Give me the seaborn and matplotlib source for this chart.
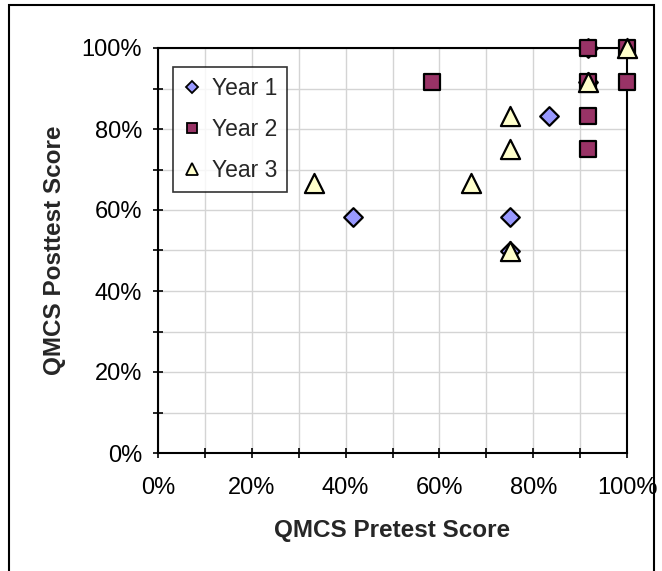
import matplotlib
matplotlib.use("Agg")
import matplotlib.pyplot as plt
from matplotlib.lines import Line2D
from matplotlib.patches import Rectangle
from matplotlib.ticker import MultipleLocator, PercentFormatter
import seaborn as sns
import pandas as pd

# ---- data ----
year1_x = [0.4167, 0.75, 0.75, 0.8333, 0.9167, 0.9167]
year1_y = [0.5833, 0.5833, 0.50, 0.8333, 1.0, 0.9167]
year2_x = [0.5833, 0.9167, 0.9167, 0.9167, 0.9167, 1.0, 1.0]
year2_y = [0.9167, 1.0, 0.9167, 0.8333, 0.75, 1.0, 0.9167]
year3_x = [0.3333, 0.6667, 0.75, 0.75, 0.75, 0.9167, 1.0]
year3_y = [0.6667, 0.6667, 0.8333, 0.75, 0.50, 0.9167, 1.0]
series_names = ["Year 1", "Year 2", "Year 3"]
x_label = "QMCS Pretest Score"
y_label = "QMCS Posttest Score"

colors = {"Year 1": "#9999FF", "Year 2": "#993366", "Year 3": "#FFFFCC"}
markers = {"Year 1": "D", "Year 2": "s", "Year 3": "^"}
msize = {"Year 1": 90, "Year 2": 140, "Year 3": 190}

sns.set_style("white")
plt.rcParams["font.family"] = ["Liberation Sans", "DejaVu Sans"]

fig = plt.figure(figsize=(6.62, 5.71), dpi=100)
ax = fig.add_axes([158 / 662, 1 - 453 / 571, (627 - 158) / 662, (453 - 48) / 571])

frames = []
for name, xs, ys in zip(series_names, [year1_x, year2_x, year3_x], [year1_y, year2_y, year3_y]):
    frames.append(pd.DataFrame({"pre": xs, "post": ys, "year": name}))
df = pd.concat(frames, ignore_index=True)

for i, name in enumerate(series_names):
    sub = df[df["year"] == name]
    sns.scatterplot(data=sub, x="pre", y="post", ax=ax, marker=markers[name],
                    color=colors[name], edgecolor="black", linewidth=1.6,
                    s=msize[name], clip_on=False, zorder=3 + i, legend=False)

ax.set_xlim(0, 1)
ax.set_ylim(0, 1)
ax.xaxis.set_major_locator(MultipleLocator(0.2))
ax.yaxis.set_major_locator(MultipleLocator(0.2))
ax.xaxis.set_minor_locator(MultipleLocator(0.1))
ax.yaxis.set_minor_locator(MultipleLocator(0.1))
ax.xaxis.set_major_formatter(PercentFormatter(1.0, decimals=0))
ax.yaxis.set_major_formatter(PercentFormatter(1.0, decimals=0))
ax.grid(True, which="both", color="#D4D4D4", linewidth=1.0, zorder=0)
ax.set_axisbelow(True)

for sp in ax.spines.values():
    sp.set_visible(True)
    sp.set_color("black")
    sp.set_linewidth(1.5)

ax.tick_params(axis="both", which="both", direction="inout", length=7, width=1.2,
               colors="black", labelsize=17)
ax.tick_params(axis="x", which="major", pad=14)
ax.tick_params(axis="y", which="major", pad=8)
ax.tick_params(axis="both", which="both", bottom=True, left=True, top=False, right=False)

ax.set_xlabel(x_label, fontsize=17.5, fontweight="bold", labelpad=14)
ax.set_ylabel(y_label, fontsize=17.5, fontweight="bold", labelpad=11)

handles = [
    Line2D([], [], linestyle="none", marker="D", markersize=6, markerfacecolor=colors["Year 1"],
           markeredgecolor="black", markeredgewidth=1.3),
    Line2D([], [], linestyle="none", marker="s", markersize=7, markerfacecolor=colors["Year 2"],
           markeredgecolor="black", markeredgewidth=1.3),
    Line2D([], [], linestyle="none", marker="^", markersize=8, markerfacecolor=colors["Year 3"],
           markeredgecolor="black", markeredgewidth=1.3),
]
leg = ax.legend(handles, series_names, loc="upper left", bbox_to_anchor=(0.032, 0.953),
                borderaxespad=0, fontsize=16.5, frameon=True, fancybox=False,
                edgecolor="black", handlelength=0.8, handletextpad=0.5,
                labelspacing=0.8, borderpad=0.42)
leg.get_frame().set_linewidth(1.2)
leg.set_zorder(10)

# outer chart border
fig.patches.append(Rectangle((9 / 662, -0.02), (654 - 9) / 662, 1 - 5 / 571 + 0.02,
                             transform=fig.transFigure, fill=False, edgecolor="black",
                             linewidth=1.5, zorder=0))

fig.savefig("out.png", dpi=100, facecolor="white")
